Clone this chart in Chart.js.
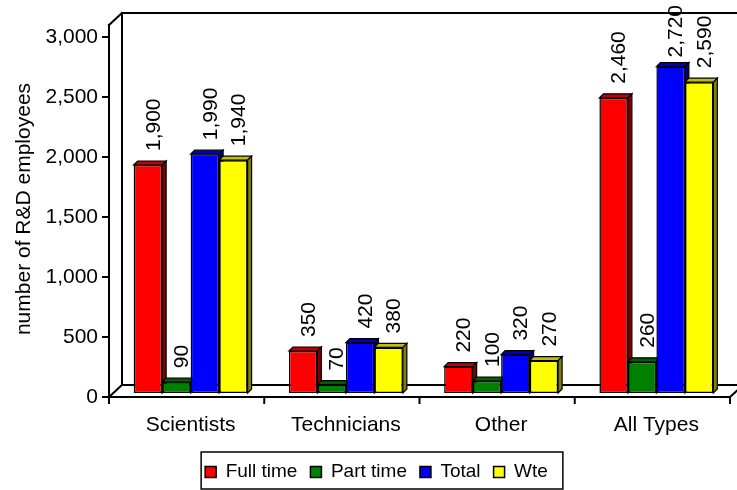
<!DOCTYPE html>
<html>
<head>
<meta charset="utf-8">
<script src="https://cdn.jsdelivr.net/npm/chart.js@4/dist/chart.umd.min.js"></script>
<style>
  html, body { margin: 0; padding: 0; background: #fff; }
  canvas { display: block; }
</style>
</head>
<body>
<canvas id="chart" width="737" height="490"></canvas>
<script>
// R&D employees by staff type
const categories = ['Scientists', 'Technicians', 'Other', 'All Types'];
const seriesNames = ['Full time', 'Part time', 'Total', 'Wte'];
const fullTime = [1900, 350, 220, 2460];
const partTime = [90, 70, 100, 260];
const totalStaff = [1990, 420, 320, 2720];
const wte = [1940, 380, 270, 2590];
const yTickValues = [0, 500, 1000, 1500, 2000, 2500, 3000];
const yTitle = 'number of R&D employees';

const frontColors = ['#ff0000', '#008000', '#0000ff', '#ffff00'];
const topColors   = ['#c00000', '#006000', '#0000c0', '#c0c000'];
const sideColors  = ['#800000', '#004000', '#000080', '#808000'];

// pseudo-3D geometry (pixels)
const WALL_DX = 13, WALL_DY = 12;   // depth of the floor / side wall
const BAR_SHIFT = 4;                // bars stand this far behind the front plane
const BAR_DEPTH = 4;                // depth of each column
const Y_MAX = yTickValues[yTickValues.length - 1];
const PLOT_H = 360;                 // pixel height of 0..Y_MAX
const shiftUnits = BAR_SHIFT * Y_MAX / PLOT_H;
const LABEL_GAP = 14;               // gap between column top and its value label

const FONT = "'Liberation Sans', Arial, Helvetica, sans-serif";
Chart.defaults.font.family = FONT;
Chart.defaults.color = '#000';

const fmt = v => v.toLocaleString('en-US');

const seriesValues = [fullTime, partTime, totalStaff, wte];

function line(ctx, x1, y1, x2, y2) {
  ctx.beginPath(); ctx.moveTo(x1, y1); ctx.lineTo(x2, y2); ctx.stroke();
}

// walls, floor, tick marks, axis title and the depth faces of each column
const depthPlugin = {
  id: 'depth',
  beforeDatasetsDraw(chart) {
    const { ctx, chartArea: a, scales } = chart;
    const y0 = scales.y.getPixelForValue(0);
    const yTop = scales.y.getPixelForValue(Y_MAX);
    const fl = a.left - BAR_SHIFT, fr = a.right - BAR_SHIFT;
    const frontTop = yTop - WALL_DY, backTop = yTop - 2 * WALL_DY;
    ctx.save();
    ctx.strokeStyle = '#000';
    ctx.lineWidth = 2;
    ctx.lineCap = 'square';
    line(ctx, fl, y0, fl, frontTop);
    line(ctx, fl, frontTop, fl + WALL_DX, backTop);
    line(ctx, fl + WALL_DX, backTop, fl + WALL_DX, y0 - WALL_DY);
    line(ctx, fl + WALL_DX, backTop, fr + WALL_DX, backTop);
    line(ctx, fr + WALL_DX, backTop, fr + WALL_DX, y0 - WALL_DY);
    line(ctx, fl + WALL_DX, y0 - WALL_DY, fr + WALL_DX, y0 - WALL_DY);
    line(ctx, fl, y0, fr, y0);
    line(ctx, fl, y0, fl + WALL_DX, y0 - WALL_DY);
    line(ctx, fr, y0, fr + WALL_DX, y0 - WALL_DY);
    ctx.lineCap = 'butt';
    scales.y.ticks.forEach(t => {
      const py = scales.y.getPixelForValue(t.value);
      line(ctx, fl - 7, py, fl, py);
    });
    const w = (fr - fl) / categories.length;
    for (let i = 0; i <= categories.length; i++) {
      line(ctx, fl + i * w, y0, fl + i * w, y0 + 7);
    }

    // value axis title, centred on the front axis line
    ctx.save();
    ctx.fillStyle = '#000';
    ctx.font = `21px ${FONT}`;
    ctx.textAlign = 'center';
    ctx.textBaseline = 'middle';
    ctx.translate(24, (frontTop + y0) / 2 - 2);
    ctx.rotate(-Math.PI / 2);
    ctx.fillText(yTitle, 0, 0);
    ctx.restore();

    // top and side faces, left to right
    ctx.lineWidth = 1.2;
    ctx.lineJoin = 'miter';
    chart.data.datasets.forEach((ds, di) => {
      chart.getDatasetMeta(di).data.forEach(bar => {
        const { x, y, base, width } = bar.getProps(['x', 'y', 'base', 'width'], true);
        const l = x - width / 2, r = x + width / 2;
        ctx.fillStyle = topColors[di];
        ctx.beginPath();
        ctx.moveTo(l, y); ctx.lineTo(r, y);
        ctx.lineTo(r + BAR_DEPTH, y - BAR_DEPTH); ctx.lineTo(l + BAR_DEPTH, y - BAR_DEPTH);
        ctx.closePath(); ctx.fill(); ctx.stroke();
        ctx.fillStyle = sideColors[di];
        ctx.beginPath();
        ctx.moveTo(r, y); ctx.lineTo(r + BAR_DEPTH, y - BAR_DEPTH);
        ctx.lineTo(r + BAR_DEPTH, base - BAR_DEPTH); ctx.lineTo(r, base);
        ctx.closePath(); ctx.fill(); ctx.stroke();
      });
    });
    ctx.restore();
  },
  afterDatasetsDraw(chart) {
    const { ctx } = chart;
    ctx.save();
    ctx.fillStyle = '#000';
    ctx.font = `21px ${FONT}`;
    ctx.textAlign = 'left';
    ctx.textBaseline = 'middle';
    chart.data.datasets.forEach((ds, di) => {
      chart.getDatasetMeta(di).data.forEach((bar, i) => {
        const { x, y } = bar.getProps(['x', 'y'], true);
        const text = fmt(ds.data[i]);
        const len = ctx.measureText(text).width;
        // keep the label inside the canvas
        const start = Math.max(y - LABEL_GAP, 5 + len);
        ctx.save();
        ctx.translate(x + 6, start);
        ctx.rotate(-Math.PI / 2);
        ctx.fillText(text, 0, 0);
        ctx.restore();
      });
    });
    ctx.restore();
  },
  afterDraw(chart) {
    const hb = chart.legend && chart.legend.legendHitBoxes;
    if (!hb || !hb.length) return;
    const { ctx } = chart;
    const last = hb[hb.length - 1];
    const L = hb[0].left - 4, R = last.left + last.width + 15;
    const T = hb[0].top - 10.5, B = hb[0].top + hb[0].height + 7.5;
    ctx.save();
    ctx.strokeStyle = '#000';
    ctx.lineWidth = 1.5;
    ctx.strokeRect(L, T, R - L, B - T);
    ctx.restore();
  }
};

new Chart(document.getElementById('chart'), {
  type: 'bar',
  data: {
    labels: categories,
    datasets: seriesNames.map((name, i) => ({
      label: name,
      data: seriesValues[i],
      yAxisID: 'yb',
      backgroundColor: frontColors[i],
      borderColor: '#000',
      borderWidth: 1.5,
      borderSkipped: false,
      categoryPercentage: 0.734,
      barPercentage: 1
    }))
  },
  options: {
    responsive: false,
    animation: false,
    devicePixelRatio: 1,
    locale: 'en-US',
    layout: { padding: { left: 19, right: 3, top: 37, bottom: -1.5 } },
    plugins: {
      legend: {
        position: 'bottom',
        labels: { boxWidth: 11, boxHeight: 11, padding: 13, color: '#000', font: { size: 19 } }
      },
      tooltip: { enabled: false }
    },
    scales: {
      x: {
        type: 'category',
        grid: { display: false, drawTicks: false },
        border: { display: false },
        ticks: { color: '#000', font: { size: 21 }, padding: 16, maxRotation: 0, autoSkip: false },
        afterFit(s) { s.height = 52.5; }
      },
      y: {
        min: 0, max: Y_MAX,
        afterBuildTicks(s) { s.ticks = yTickValues.map(v => ({ value: v })); },
        ticks: { color: '#000', font: { size: 21 }, padding: 15, callback: v => fmt(v) },
        grid: { display: false, drawTicks: false },
        border: { display: false },
        afterFit(s) { s.width = 94; }
      },
      yb: { display: false, min: -shiftUnits, max: Y_MAX - shiftUnits }
    }
  },
  plugins: [depthPlugin]
});
</script>
</body>
</html>
